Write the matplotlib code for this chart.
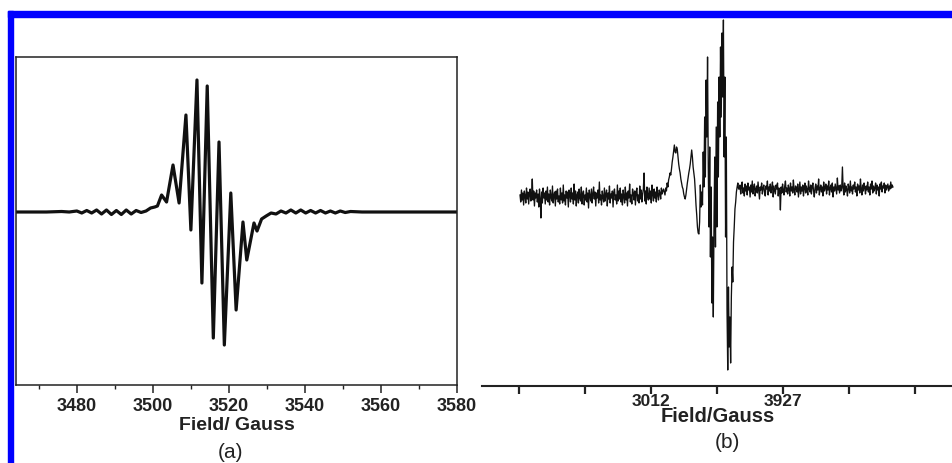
import numpy as np
import matplotlib
matplotlib.use("Agg")
import matplotlib.pyplot as plt
from matplotlib.patches import Rectangle

plt.rcParams['font.family'] = ['Liberation Sans', 'DejaVu Sans']

# ---------------- Panel (a): EPR derivative spectrum ----------------
a_field = [3464, 3472, 3476, 3478, 3480, 3481.3, 3482.6, 3483.9, 3485.2, 3486.5,
           3487.8, 3489.1, 3490.4, 3491.7, 3493.0, 3494.3, 3495.6, 3496.9, 3498.2, 3499.4,
           3500.5, 3501.2, 3502.3, 3503.6, 3505.3, 3506.9, 3508.7, 3510.0, 3511.6, 3512.9,
           3514.3, 3515.9, 3517.4, 3518.8, 3520.5, 3521.9, 3523.7, 3524.7, 3526.6, 3527.4,
           3528.6, 3529.8, 3531.1, 3532.4, 3533.7, 3535.0, 3536.3, 3537.6, 3538.9, 3540.2,
           3541.5, 3542.8, 3544.1, 3545.4, 3546.7, 3548.0, 3549.3, 3550.6, 3552, 3555,
           3560, 3570, 3580]
a_signal = [0, 0, 0.5, 0, 1, -1, 1.5, -1, 2, -2,
            2, -2.5, 1.5, -2.5, 2, -2, 1.5, -0.5, 1, 4,
            5, 6, 17, 10, 47, 9, 97, -18, 132, -71,
            126, -126, 70, -133, 19, -98, -10, -48, -11, -19,
            -7, -4, -1, -2, 1, -1, 2, -1, 2, -1,
            1.5, -1, 1.5, -1, 1, -1, 1, -0.5, 0.5, 0,
            0, 0, 0]
a_xlim = (3464, 3580)
a_ylim = (-173, 155)
a_major_ticks = [3480, 3500, 3520, 3540, 3560, 3580]
a_minor_ticks = [3470, 3490, 3510, 3530, 3550, 3570]

# ---------------- Panel (b): noisy EPR spectrum ----------------
b_field_start = 2104   # Gauss
b_field_step = 5       # Gauss per point
b_baseline_left = [
    2, -5, 7, -3, 4, -8, 6, 1, -6, 9, -2, 5, -7, 3, 8, -4, 2, 18, -3, 6,
    -9, 4, -1, 7, -5, 3, -10, 8, -2, -21, 5, -6, 9, -1, 4, -7, 6, -3, 10, -5,
    3, -8, 7, 0, -4, 11, -6, 2, 5, -9, 6, -2, 8, -5, 1, -7, 9, -3, 4, -6,
    12, -4, 2, -8, 6, -1, 5, -10, 7, 3, -5, 9, -2, 4, -7, 13, -3, 6, -9, 2,
    5, -6, 8, -1, -4, 10, -7, 3, 6, -8, 2, -3, 9, -5, 4, -11, 7, 1, -4, 8,
    -6, 3, 10, -2, 5, -9, 4, -1, 7, -6, 15, -3, 2, -8, 6, 0, -5, 9, -4, 3,
    7, -9, 4, -2, 11, -6, 3, -1, 6, -10, 5, 8, -3, 2, -7, 12, -4, 6, -2, 9,
    -5, 3, -8, 7, 1, -6, 10, -3, 4, -9, 6, -1, 13, -5, 2, -7, 8, 4, -3, 6,
    -8, 5, 9, -4, 2, -6, 11, -2, 7, -5, 3, 8, 24, -4, 6, -7, 10, 1, -3, 9,
    -2, 6, -6, 12, 3, -4, 8, -1, 5, -5, 10, 2, -3, 7, 4, -2, 9, 3, 6, 8]
b_hump = [5, 2, 9, 6, 14, 10, 17, 20, 24, 22, 28, 35, 40, 46, 52, 45, 44, 50, 48, 40,
          33, 28, 24, 18, 14, 10, 8, 3, 0, -2, 2, 8, 14, 19, 24, 28, 33, 40, 47, 40,
          30, 24, 18, 6, -8, -18, -30, -36, -37, -25]
b_main = [12, -10, 5, -8, 45, 10, 80, 20, 117, 60, 140, 30,
          -30, 50, -60, 10, -106, -40, -120, -20, 40, -50,
          70, -30, 95, 20, 120, 60, 150, 80, 164, 100,
          177, 40, 120, -40, 60, -113, -173, -90, -150, -120,
          -166, -100, -70, -85, -45, -30, -12, -5, 5, 10, 14, 8]
b_baseline_right = [
    8, 12, 3, 10, 15, 4, 9, 1, 13, 6, 11, 2, 14, 7, 10, 0, 12, 5, 16, 3,
    9, 13, 1, 8, 11, 4, 15, 6, -2, 10, 7, 14, 3, 9, 12, 5, 1, 11, 8, 16,
    2, 10, 6, 13, 4, 9, 15, 0, 11, 7, 3, 12, 8, 14, 1, 9, 6, -13, 10, 4,
    13, 7, 2, 11, 16, 5, 9, 3, 12, 8, 1, 14, 6, 10, 4, 17, 7, 2, 11, 9,
    5, 13, 0, 8, 15, 3, 10, 6, 12, 1, 9, 14, 4, 11, 7, 2, 16, 8, 5, 12,
    3, 10, 14, 6, 0, 9, 13, 4, 11, 7, 18, 2, 8, 12, 5, 10, 1, 15, 6, 9,
    13, 3, 11, 7, 16, 2, 9, 12, 5, 14, 0, 10, 6, 13, 8, 3, 19, 7, 11, 4,
    12, 6, 9, 30, 8, 2, 14, 5, 11, 7, 1, 13, 9, 4, 16, 6, 10, 3, 12, 8,
    15, 5, 10, 1, 13, 7, 11, 4, 18, 8, 2, 12, 6, 14, 9, 3, 11, 7, 15, 5,
    10, 2, 13, 8, 16, 4, 11, 6, 9, 14, 3, 12, 7, 10, 1, 13, 8, 15, 5, 11,
    9, 14, 4, 12, 7, 10, 13, 6, 11, 8, 15, 9, 12, 10]
b_xlim = (1840.5, 5105.5)
b_ylim = (-189, 180)
b_ticks = [2097, 2554.5, 3012, 3469.5, 3927, 4384.5, 4842]
b_tick_labels = ["", "", "3012", "", "3927", "", ""]

a_xlabel = "Field/ Gauss"
b_xlabel = "Field/Gauss"

W, H = 953, 463
fig = plt.figure(figsize=(W / 100, H / 100), dpi=100)

def fx(px):
    return px / W

def fy(py):
    return 1 - py / H

# blue frame (top and left)
blue = "#0000ff"
fig.patches.append(Rectangle((fx(8), fy(16.5)), fx(W) - fx(8), 5.5 / H,
                             transform=fig.transFigure, color=blue, zorder=10))
fig.patches.append(Rectangle((fx(8), 0), 5.5 / W, fy(11),
                             transform=fig.transFigure, color=blue, zorder=10))

# ----- axes (a)
axa = fig.add_axes([fx(16), fy(385), fx(457) - fx(16), fy(57) - fy(385)])
axa.plot(a_field, a_signal, color="#111111", lw=2.3, solid_joinstyle="round")
axa.set_xlim(*a_xlim)
axa.set_ylim(*a_ylim)
axa.set_xticks(a_major_ticks)
axa.set_xticks(a_minor_ticks, minor=True)
axa.set_yticks([])
for s in axa.spines.values():
    s.set_linewidth(1.1)
    s.set_color("#222222")
axa.tick_params(axis="x", which="major", direction="out", length=6, width=1.1,
                pad=3.5, labelsize=13, color="#222222")
axa.tick_params(axis="x", which="minor", direction="out", length=3, width=1.0,
                color="#222222")
for lab in axa.get_xticklabels():
    lab.set_fontweight("bold")
    lab.set_color("#222222")
fig.text(fx(236.5), fy(425), a_xlabel, ha="center", va="center", fontsize=14,
         fontweight="bold", color="#222222")
fig.text(fx(231), fy(452), "(a)", ha="center", va="center", fontsize=15,
         color="#222222")

# ----- axes (b)
b_values = b_baseline_left + b_hump + b_main + b_baseline_right
b_field = b_field_start + b_field_step * np.arange(len(b_values))
axb = fig.add_axes([fx(482), fy(386), fx(953) - fx(482), fy(17) - fy(386)])
axb.plot(b_field, b_values, color="#111111", lw=0.95)
axb.set_xlim(*b_xlim)
axb.set_ylim(*b_ylim)
for side in ("top", "left", "right"):
    axb.spines[side].set_visible(False)
axb.spines["bottom"].set_linewidth(1.5)
axb.spines["bottom"].set_color("#222222")
axb.set_yticks([])
axb.set_xticks(b_ticks)
axb.set_xticklabels(b_tick_labels)
axb.tick_params(axis="x", direction="out", length=6, width=1.6, pad=-0.5,
                labelsize=12.5, color="#222222")
for lab in axb.get_xticklabels():
    lab.set_fontweight("bold")
    lab.set_color("#222222")
fig.text(fx(718), fy(417), b_xlabel, ha="center", va="center", fontsize=14.5,
         fontweight="bold", color="#222222")
fig.text(fx(727), fy(443), "(b)", ha="center", va="center", fontsize=15,
         color="#222222")

fig.savefig("out.png", dpi=100)
